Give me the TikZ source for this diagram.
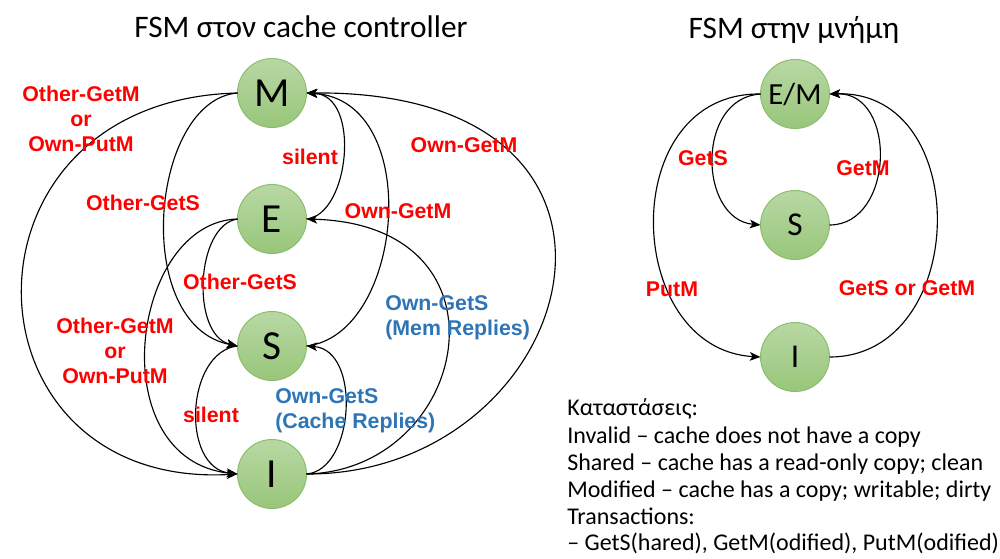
\documentclass[tikz,border=0pt]{standalone}
\usepackage{fontspec}
\setmainfont{Carlito}
\newfontfamily\lblfont{Liberation Sans}
\usetikzlibrary{arrows.meta}

\definecolor{lblred}{RGB}{255,0,0}
\definecolor{lblblue}{RGB}{46,117,182}
\definecolor{stateTop}{RGB}{184,216,164}
\definecolor{stateBottom}{RGB}{152,198,122}
\definecolor{stateRim}{RGB}{138,188,108}

\begin{document}
\begin{tikzpicture}[x=0.75pt,y=-0.75pt,
  state/.style={circle, minimum size=51.75pt, inner sep=0pt, outer sep=0pt,
    draw=stateRim, line width=0.7pt, top color=stateTop, bottom color=stateBottom},
  bigstate/.style={state, font=\fontsize{31}{31}\selectfont},
  smallstate/.style={state, font=\fontsize{25}{25}\selectfont},
  trans/.style={draw, line width=0.85pt, -{Stealth[length=8pt,width=6.5pt,inset=2pt]}},
  lbl/.style={font=\lblfont\bfseries\fontsize{16}{19}\selectfont, text=lblred, align=center, inner sep=0pt},
  blbl/.style={font=\lblfont\bfseries\fontsize{16}{19}\selectfont, text=lblblue, align=left, inner sep=0pt, anchor=west},
  title/.style={font=\fontsize{23.5}{28}\selectfont, anchor=base, inner sep=0pt},
  legend/.style={font=\fontsize{18}{20}\selectfont, anchor=base west, inner sep=0pt}]
\useasboundingbox (0,0) rectangle (1000,558);

% ---------- titles ----------
\node[title] (t1) at (301,37) {FSM στον cache controller};
\node[title] (t2) at (794,38) {FSM στην μνήμη};

% ---------- cache controller states ----------
\node[bigstate] (M) at (272,93)  {M};
\node[bigstate] (E) at (272,219) {E};
\node[bigstate] (S) at (272,346) {S};
\node[bigstate] (I) at (272,474) {I};

% transitions on the left
\draw[trans] (M.west) .. controls +(-292,7)  and +(-282,16) .. (I.west);
\draw[trans] (M.west) .. controls +(-87,7)   and +(-107,-21) .. (S.west);
\draw[trans] (E.west) .. controls +(-42,6)   and +(-47,-11) .. (S.west);
\draw[trans] (E.west) .. controls +(-107,3)  and +(-137,-14) .. (I.west);
\draw[trans] (S.west) .. controls +(-52,6)   and +(-57,-6) .. (I.west);

% transitions on the right
\draw[trans] (E.east) .. controls +(43,-4)   and +(55,2) .. (M.east);
\draw[trans] (S.east) .. controls +(98,-11)  and +(118,7) .. (M.east);
\draw[trans] (I.east) .. controls +(273,1)   and +(383,-3) .. (M.east);
\draw[trans] (I.east) .. controls +(163,-4)  and +(213,6) .. (E.east);
\draw[trans] (I.east) .. controls +(48,-4)   and +(55,4) .. (S.east);

% labels
\node[lbl] (l1) at (81,119)  {Other-GetM\\or\\Own-PutM};
\node[lbl] (l2) at (143,203) {Other-GetS};
\node[lbl] (l3) at (240,282) {Other-GetS};
\node[lbl] (l4) at (115,351) {Other-GetM\\or\\Own-PutM};
\node[lbl] (l5) at (211,415) {silent};
\node[lbl] (l6) at (310,157) {silent};
\node[lbl] (l7) at (464,145) {Own-GetM};
\node[lbl] (l8) at (398,211) {Own-GetM};
\node[blbl] (l9) at (385,318) {Own-GetS\\(Mem Replies)};
\node[blbl] (l10) at (275,411) {Own-GetS\\(Cache Replies)};

% ---------- memory states ----------
\node[state, font=\fontsize{23}{23}\selectfont] (EM) at (795,94) {E/M};
\node[smallstate] (S2) at (795,225) {S};
\node[smallstate] (I2) at (795,357) {I};

\draw[trans] (EM.west) .. controls +(-65,4)   and +(-62,-6) .. (S2.west);
\draw[trans] (S2.east) .. controls +(65,0)    and +(68,-2) .. (EM.east);
\draw[trans] (EM.west) .. controls +(-145,-2) and +(-138,-8) .. (I2.west);
\draw[trans] (I2.east) .. controls +(140,0)   and +(145,-4) .. (EM.east);

\node[lbl] (m1) at (703,158) {GetS};
\node[lbl] (m2) at (863,168) {GetM};
\node[lbl] (m3) at (672,289) {PutM};
\node[lbl] (m4) at (907,288) {GetS or GetM};

% ---------- legend ----------
\node[legend] (g1) at (567,415) {Καταστάσεις:};
\node[legend] (g2) at (567,443) {Invalid – cache does not have a copy};
\node[legend] (g3) at (567,470) {Shared – cache has a read-only copy; clean};
\node[legend] (g4) at (567,497) {Modified – cache has a copy; writable; dirty};
\node[legend] (g5) at (567,524) {Transactions:};
\node[legend] (g6) at (567,550) {– GetS(hared), GetM(odified), PutM(odified)};
\end{tikzpicture}
\end{document}
